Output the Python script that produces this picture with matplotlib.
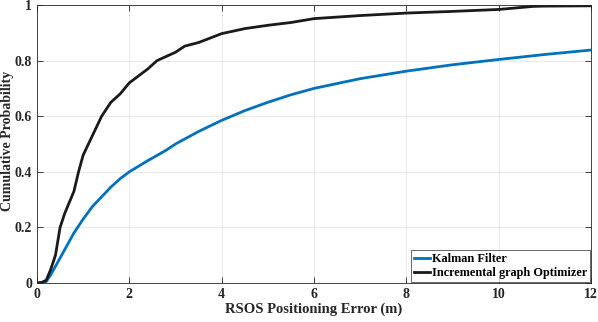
import matplotlib
matplotlib.use('Agg')
import matplotlib.pyplot as plt
import numpy as np

# Sai số (m) và xác suất tích lũy
kf_x = [0, 0.1, 0.2, 0.3, 0.4, 0.5, 0.6, 0.7, 0.8, 0.9, 1.0, 1.2, 1.4, 1.6, 1.8, 2.0,
        2.4, 2.8, 3.0, 3.5, 4.0, 4.5, 5.0, 5.5, 6.0, 7.0, 8.0, 9.0, 10.0, 11.0, 12.0]
kf_y = [0, 0.0, 0.005, 0.03, 0.06, 0.09, 0.12, 0.15, 0.18, 0.205, 0.23, 0.275, 0.31,
        0.345, 0.375, 0.40, 0.44, 0.478, 0.50, 0.545, 0.585, 0.62, 0.65, 0.677, 0.70,
        0.735, 0.762, 0.785, 0.804, 0.822, 0.838]

ig_x = [0, 0.1, 0.2, 0.3, 0.4, 0.5, 0.6, 0.7, 0.8, 0.9, 1.0, 1.2, 1.4, 1.6, 1.8, 2.0,
        2.2, 2.4, 2.6, 2.8, 3.0, 3.2, 3.5, 4.0, 4.5, 5.0, 5.5, 6.0, 7.0, 8.0, 9.0,
        10.0, 10.75, 11.0, 12.0]
ig_y = [0, 0.002, 0.01, 0.05, 0.10, 0.20, 0.25, 0.29, 0.33, 0.40, 0.46, 0.53, 0.60,
        0.65, 0.68, 0.72, 0.745, 0.77, 0.80, 0.815, 0.83, 0.852, 0.865, 0.897, 0.915,
        0.927, 0.937, 0.951, 0.962, 0.971, 0.977, 0.984, 0.995, 0.996, 0.997]

xticks = [0, 2, 4, 6, 8, 10, 12]
yticks = [0, 0.2, 0.4, 0.6, 0.8, 1]

plt.rcParams['font.family'] = ['Liberation Serif', 'DejaVu Serif']
plt.rcParams['font.weight'] = 'bold'

fig = plt.figure(figsize=(5.98, 3.22), dpi=100)
ax = fig.add_axes([37/598, 39/322, 554/598, 278/322])

ax.plot(kf_x, kf_y, color='#0072BD', lw=2, label='Kalman Filter')
ax.plot(ig_x, ig_y, color='#1a1a1a', lw=2, label='Incremental graph Optimizer')

ax.set_xlim(0, 12)
ax.set_ylim(0, 1)
ax.set_xticks(xticks)
ax.set_yticks(yticks)
ax.set_xticklabels([str(t) for t in xticks])
ax.set_yticklabels(['0', '0.2', '0.4', '0.6', '0.8', '1'])
ax.grid(True, color='#e8e8e8', lw=0.7)
ax.tick_params(direction='in', top=True, right=True, labelsize=10, colors='#262626',
               length=4, width=0.6)
for s in ax.spines.values():
    s.set_color('#262626')
    s.set_linewidth(0.6)

ax.set_xlabel('RSOS Positioning Error (m)', fontsize=10.5, fontweight='bold',
              color='#262626', labelpad=1)
# nhãn trục y đặt trực tiếp để không bị cắt ở mép trái
fig.text(8/598, 0.5 * (39 + 317) / 322 + 0.01, 'Cumulative Probability', rotation=90,
         ha='center', va='center', fontsize=10, fontweight='bold', color='#262626')

leg = ax.legend(loc='lower right', frameon=True, fancybox=False,
                handlelength=1.3, handletextpad=0.2, borderpad=0.2, labelspacing=0.2,
                borderaxespad=0.1, prop={'weight': 'bold', 'size': 8.8})
leg.get_frame().set_edgecolor('#262626')
leg.get_frame().set_linewidth(0.6)

fig.savefig('out.png', dpi=100)
